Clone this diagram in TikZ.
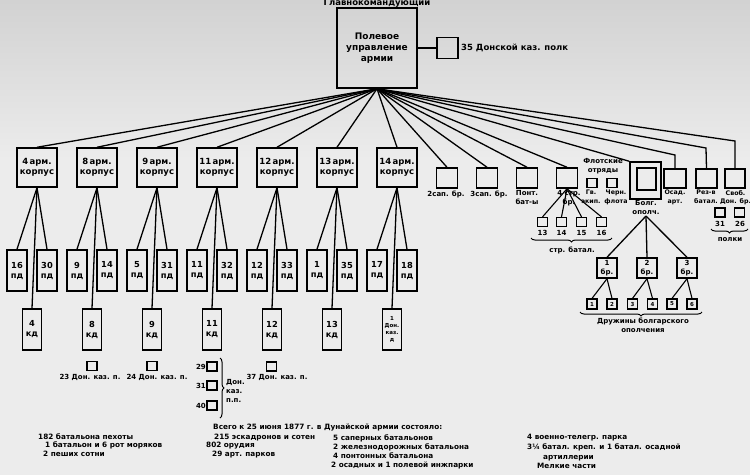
\documentclass[tikz,border=0pt]{standalone}
\usepackage{fontspec}
\setmainfont{DejaVu Sans}
\usetikzlibrary{decorations.pathreplacing}
\definecolor{bgc}{RGB}{236,236,236}
\definecolor{bgtop}{RGB}{210,210,210}
\newcommand\fbig{\fontsize{8.5}{10.5}\selectfont\bfseries}
\newcommand\fmain{\fontsize{9}{11}\selectfont\bfseries}
\newcommand\fdiv{\fontsize{8.3}{10}\selectfont\bfseries}
\newcommand\fmid{\fontsize{7}{9}\selectfont\bfseries}
\newcommand\fflt{\fontsize{6.3}{8.5}\selectfont\bfseries}
\newcommand\fsml{\fontsize{5.5}{7}\selectfont\bfseries}
\newcommand\ftxt{\fontsize{7.3}{9}\selectfont\bfseries}
\begin{document}
\begin{tikzpicture}[x=1pt,y=-1pt,
  box/.style={draw,line width=1.5pt,inner sep=0pt,align=center,font=\fdiv},
  corps/.style={box,minimum width=40pt,minimum height=39pt,font=\fbig},
  div/.style={box,minimum width=20pt,minimum height=41pt},
  kdiv/.style={box,minimum width=19pt,minimum height=41pt},
  sq/.style={box,minimum width=21pt,minimum height=20pt},
  tiny/.style={box,line width=1.2pt,minimum width=10pt,minimum height=9pt,font=\fsml},
  conn/.style={line width=1.3pt},
  lbl/.style={inner sep=0pt,align=center,font=\fmid},
  flt/.style={inner sep=0pt,align=center,font=\fflt},
  txt/.style={inner sep=0pt,anchor=base west,font=\ftxt},
  brc/.style={decorate,decoration={brace,amplitude=4pt},line width=1pt}]
\shade[top color=bgtop,bottom color=bgc] (0,0) rectangle (750,160);
\fill[bgc] (0,160) rectangle (750,475);
\useasboundingbox (0,0) rectangle (750,475);

% top
\node[lbl,anchor=base,font=\fbig] (gk) at (377,5) {Главнокомандующий};
\node[box,minimum width=80pt,minimum height=80pt,font=\fmain] (main) at (377,48) {Полевое\\управление\\армии};
\node[box,minimum width=21pt,minimum height=21pt] (p35) at (447.5,48) {};
\draw[conn] (main.east) -- (p35.west);
\node[lbl,anchor=west,font=\fbig] (t35) at (461,48) {35 Донской каз. полк};

% corps
\foreach \i/\n/\a/\b/\k in {0/4/16/30/4, 1/8/9/14/8, 2/9/5/31/9, 3/11/11/32/11, 4/12/12/33/12, 5/13/1/35/13}{
  \pgfmathsetmacro\cx{37+60*\i}
  \node[corps] (c\i) at (\cx,167.5) {\n\,арм.\\корпус};
  \node[div] (da\i) at (\cx-20,270.5) {\a\\пд};
  \node[div] (db\i) at (\cx+10,270.5) {\b\\пд};
  \node[kdiv] (kd\i) at (\cx-5,329.5) {\k\\кд};
  \draw[conn] (main.south) -- (c\i.north);
  \draw[conn] (c\i.south) -- (da\i.north);
  \draw[conn] (c\i.south) -- (db\i.north);
  \draw[conn] (c\i.south) -- (kd\i.north);
}
\node[corps] (c6) at (397,167.5) {14\,арм.\\корпус};
\node[div] (da6) at (377,270.5) {17\\пд};
\node[div] (db6) at (407,270.5) {18\\пд};
\node[kdiv,font=\fsml,align=center] (kd6) at (392,329.5) {1\\Дон.\\каз.\\д};
\draw[conn] (main.south) -- (c6.north);
\draw[conn] (c6.south) -- (da6.north);
\draw[conn] (c6.south) -- (db6.north);
\draw[conn] (c6.south) -- (kd6.north);

% cossack regiments below
\node[tiny] (r23) at (92,366) {};
\node[lbl] (l23) at (90,377) {23 Дон. каз. п.};
\node[tiny] (r24) at (152,366) {};
\node[lbl] (l24) at (157,377) {24 Дон. каз. п.};
\node[tiny] (r37) at (271.5,366.5) {};
\node[lbl] (l37) at (277,377) {37 Дон. каз. п.};
\node[tiny] (r29) at (212,366.5) {};
\node[tiny] (r31) at (212,385.5) {};
\node[tiny] (r40) at (212,405.5) {};
\node[lbl,anchor=east] (l29) at (206,366.5) {29};
\node[lbl,anchor=east] (l31) at (206,385.5) {31};
\node[lbl,anchor=east] (l40) at (206,405.5) {40};
\coordinate (bt) at (220,358);
\coordinate (bb) at (220,418);
\draw[brc] (bt) -- (bb);
\node[lbl,anchor=north west,align=left] (ldk) at (226,379) {Дон.\\каз.\\п.п.};

% right-hand units
\node[sq] (sap2) at (447,178) {};
\node[lbl] (lsap2) at (446,194) {2сап. бр.};
\node[sq] (sap3) at (487,178) {};
\node[lbl] (lsap3) at (489,194) {3сап. бр.};
\node[sq] (pont) at (527,178) {};
\node[lbl,anchor=north] (lpont) at (527,190) {Понт.\\бат-ы};
\node[sq] (str4) at (567,178) {};
\node[lbl,anchor=north] (lstr4) at (569,190) {4 стр.\\бр.};
\foreach \t in {sap2,sap3,pont,str4}{\draw[conn] (main.south) -- (\t.north);}

\node[lbl,anchor=north] (lflot) at (603,158) {Флотские\\отряды};
\node[tiny] (gv) at (592,183) {};
\node[tiny] (chern) at (612,183) {};
\node[flt,anchor=north] (lgv) at (591,190) {Гв.\\экип.};
\node[flt,anchor=north] (lch) at (616,190) {Черн.\\флота};

\node[box,minimum width=31pt,minimum height=37pt] (bolg) at (645.5,180.5) {};
\node[box,minimum width=19pt,minimum height=22pt] (bolgi) at (646.5,179) {};
\node[lbl,anchor=north] (lbolg) at (646,200) {Болг.\\ополч.};
\draw[conn] (main.south) -- (bolg.north west);

\node[sq,minimum width=22pt,minimum height=19pt] (osad) at (675,178.5) {};
\node[flt,anchor=north] (losad) at (675,190) {Осад.\\арт.};
\node[sq,minimum width=21pt,minimum height=19pt] (rez) at (706.5,178.5) {};
\node[flt,anchor=north] (lrez) at (706,190) {Рез-в\\батал.};
\node[sq,minimum width=20pt,minimum height=19pt] (svob) at (735,178.5) {};
\node[flt,anchor=north] (lsvob) at (735.5,190) {Своб.\\Дон. бр.};
\coordinate (kosad) at (675,155);
\coordinate (krez) at (706,148);
\coordinate (ksvob) at (735,141);
\draw[conn] (main.south) -- (kosad) -- (osad.north);
\draw[conn] (main.south) -- (krez) -- (rez.north);
\draw[conn] (main.south) -- (ksvob) -- (svob.north);

% Svob. Don. br. regiments
\node[tiny] (p31) at (720,212.5) {};
\node[tiny] (p26) at (739.5,212.5) {};
\node[lbl] (lp31) at (720,224) {31};
\node[lbl] (lp26) at (740,224) {26};
\coordinate (pb1) at (748,229);
\coordinate (pb2) at (711,229);
\draw[brc] (pb1) -- (pb2);
\node[lbl] (lpolki) at (730,240) {полки};

% rifle battalions
\foreach \x/\n in {542.5/13,561.5/14,581.5/15,601.5/16}{
  \node[tiny] (sb\n) at (\x,222) {};
  \node[lbl] (lsb\n) at (\x,233) {\n};
  \draw[conn,line width=1.1pt] (str4.south) -- (sb\n.north);
}
\coordinate (sbr1) at (612,238);
\coordinate (sbr2) at (531,238);
\draw[brc] (sbr1) -- (sbr2);
\node[lbl] (lstrb) at (572,250) {стр. батал.};

% Bulgarian brigades
\coordinate (bolgo) at (646,216);
\foreach \x/\n in {607/1,647/2,687/3}{
  \node[sq,minimum width=20pt,minimum height=20pt,font=\fmid] (br\n) at (\x,268) {\n\\бр.};
  \draw[conn] (bolgo) -- (br\n.north);
}
\foreach \x/\n/\p in {592/1/1,612/2/1,632.5/3/2,652.5/4/2,672/5/3,692/6/3}{
  \node[tiny,minimum height=10pt] (dr\n) at (\x,304) {\n};
  \draw[conn,line width=1.1pt] (br\p.south) -- (dr\n.north);
}
\coordinate (dbr1) at (702,312);
\coordinate (dbr2) at (580,312);
\draw[brc] (dbr1) -- (dbr2);
\node[lbl,anchor=north] (ldr) at (643,318) {Дружины болгарского\\ополчения};

% totals
\node[txt] (tot) at (213,429) {Всего к 25 июня 1877 г. в Дунайской армии состояло:};
\node[txt] (a1) at (38,439) {182 батальона пехоты};
\node[txt] (a2) at (45,447.5) {1 батальон и 6 рот моряков};
\node[txt] (a3) at (43,456) {2 пеших сотни};
\node[txt] (b1) at (214,439) {215 эскадронов и сотен};
\node[txt] (b2) at (206,447.5) {802 орудия};
\node[txt] (b3) at (212,456) {29 арт. парков};
\node[txt] (c1) at (333,440) {5 саперных батальонов};
\node[txt] (c2) at (333,449) {2 железнодорожных батальона};
\node[txt] (c3) at (333,458) {4 понтонных батальона};
\node[txt] (c4) at (331,467) {2 осадных и 1 полевой инжпарки};
\node[txt] (d1) at (527,439) {4 военно-телегр. парка};
\node[txt] (d2) at (527,449) {3¼ батал. креп. и 1 батал. осадной};
\node[txt] (d3) at (543,459) {артиллерии};
\node[txt] (d4) at (537,468) {Мелкие части};
\end{tikzpicture}
\end{document}
